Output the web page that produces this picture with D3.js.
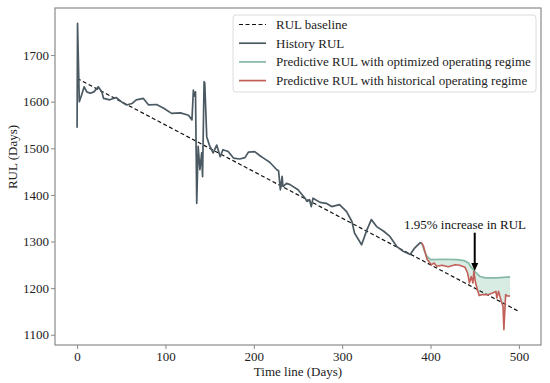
<!DOCTYPE html>
<html>
<head>
<meta charset="utf-8">
<script src="https://cdn.jsdelivr.net/npm/d3@7"></script>
<style>
  body { margin: 0; background: #fff; }
  text { font-family: "Liberation Serif", "DejaVu Serif", serif; }
</style>
</head>
<body>
<svg id="chart" width="550" height="383"></svg>
<script>
// RUL baseline: straight line from day 0 to day 500
let baseline = [[0, 1650], [500, 1150]];

// History RUL as [day, RUL]
let history = [
    [0, 1544], [0.5, 1768], [2.5, 1600], [5, 1614], [8, 1632], [11, 1621], [15, 1618],
    [19, 1621], [24, 1632], [28, 1621], [30, 1607], [37, 1604], [44, 1609], [50, 1600],
    [56, 1593], [62, 1596], [67, 1604], [75, 1607], [81, 1593], [90, 1594], [98, 1586],
    [107, 1575], [117, 1576], [126, 1571], [130, 1561], [131.6, 1625], [132.4, 1612],
    [134, 1621], [135.4, 1382], [137, 1504], [139, 1454], [141, 1490], [142, 1439],
    [143.7, 1643], [144.5, 1640], [146.7, 1525], [149.7, 1507], [154, 1490], [158, 1507],
    [162, 1482], [165, 1497], [171, 1493], [177, 1479], [184, 1477], [190, 1480],
    [194, 1492], [201, 1493], [207, 1484], [211, 1479], [218, 1470], [226, 1454],
    [228, 1452], [230, 1411], [232, 1440], [233, 1418], [237, 1425], [241, 1422],
    [250, 1411], [258, 1393], [260, 1386], [263, 1390], [265, 1375], [267, 1393],
    [275, 1384], [282, 1382], [288, 1375], [297, 1379], [305, 1364], [311, 1343],
    [314, 1318], [322, 1293], [328, 1325], [333, 1347], [339, 1332], [347, 1322],
    [354, 1311], [362, 1289], [369, 1279], [377, 1272], [382, 1286], [388, 1297], [390, 1297]
];

// Predictive RUL with optimized operating regime
let optimized = [
    [390, 1297], [393, 1280], [396, 1268], [400, 1261], [415, 1262], [430, 1261],
    [438, 1259], [443, 1254], [446, 1245], [450, 1236], [453, 1230], [456, 1225],
    [462, 1222], [475, 1222], [490, 1224]
];

// Predictive RUL with historical operating regime
let historical = [
    [390, 1297], [392, 1290], [396, 1262], [401, 1250], [404, 1254], [407, 1247],
    [413, 1249], [420, 1246], [428, 1250], [433, 1249], [439, 1245], [442, 1232],
    [444, 1211], [446, 1225], [448, 1211], [449, 1236], [451, 1211], [453, 1197],
    [455, 1184], [458, 1186], [465, 1186], [471, 1190], [474, 1193], [475, 1179],
    [477, 1193], [480, 1172], [482, 1161], [483, 1111], [485, 1186], [487, 1183], [490, 1183]
];

let xTicks = [0, 100, 200, 300, 400, 500];
let yTicks = [1100, 1200, 1300, 1400, 1500, 1600, 1700];

let legendLabels = ["RUL baseline", "History RUL",
                    "Predictive RUL with optimized operating regime",
                    "Predictive RUL with historical operating regime"];

let arrowFrom = [450, 1319],
    arrowTo   = [450, 1237];

let colHist = "#4b5a62",
    colOpt  = "#86b9a6",
    colHis  = "#c25f58",
    colFill = "#d9ece4",
    colAxis = "#8a8a8a";

function draw() {
    let svg = d3.select("#chart"),
        left = 55, right = 541, top = 8, bottom = 345;

    let x = d3.scaleLinear().domain([-25, 525]).range([left, right]);
    let y = d3.scaleLinear().domain([1078, 1801]).range([bottom, top]);
    let line = d3.line().x(d => x(d[0])).y(d => y(d[1]));

    // band between the two predictions
    svg.append("path")
       .attr("d", line(optimized.concat(historical.slice().reverse())) + "Z")
       .attr("fill", colFill)
       .attr("stroke", "none");

    svg.append("path")
       .attr("d", line(baseline))
       .attr("fill", "none")
       .attr("stroke", "#111")
       .attr("stroke-width", 1.2)
       .attr("stroke-dasharray", "4,2.5");

    svg.append("path")
       .attr("d", line(history))
       .attr("fill", "none")
       .attr("stroke", colHist)
       .attr("stroke-width", 1.7)
       .attr("stroke-linejoin", "round");

    svg.append("path")
       .attr("d", line(optimized))
       .attr("fill", "none")
       .attr("stroke", colOpt)
       .attr("stroke-width", 1.7);

    svg.append("path")
       .attr("d", line(historical))
       .attr("fill", "none")
       .attr("stroke", colHis)
       .attr("stroke-width", 1.6)
       .attr("stroke-linejoin", "round");

    // axes
    let gx = svg.append("g")
                .attr("transform", `translate(0,${bottom})`)
                .call(d3.axisBottom(x).tickValues(xTicks).tickFormat(d3.format("d"))
                        .tickSize(4).tickPadding(3));
    let gy = svg.append("g")
                .attr("transform", `translate(${left},0)`)
                .call(d3.axisLeft(y).tickValues(yTicks).tickFormat(d3.format("d"))
                        .tickSize(4).tickPadding(2));
    [gx, gy].forEach(g => {
        g.select(".domain").remove();
        g.selectAll("line").attr("stroke", colAxis);
        g.selectAll("text").attr("fill", "#222")
         .style("font-family", '"Liberation Serif", serif')
         .style("font-size", "13px");
    });

    svg.append("rect")
       .attr("x", left).attr("y", top)
       .attr("width", right - left).attr("height", bottom - top)
       .attr("fill", "none")
       .attr("stroke", colAxis)
       .attr("stroke-width", 1.2);

    svg.append("text")
       .attr("x", (left + right) / 2).attr("y", 376)
       .attr("text-anchor", "middle")
       .attr("font-size", 13)
       .attr("fill", "#222")
       .text("Time line (Days)");

    svg.append("text")
       .attr("transform", "translate(17,157) rotate(-90)")
       .attr("text-anchor", "middle")
       .attr("font-size", 13)
       .attr("fill", "#222")
       .text("RUL (Days)");

    // annotation
    let ax = x(arrowFrom[0]), ay0 = y(arrowFrom[1]), ay1 = y(arrowTo[1]);
    svg.append("line")
       .attr("x1", ax).attr("x2", ax)
       .attr("y1", ay0).attr("y2", ay1 - 7)
       .attr("stroke", "#000")
       .attr("stroke-width", 2);
    svg.append("path")
       .attr("d", `M${ax - 3.5},${ay1 - 8} L${ax + 3.5},${ay1 - 8} L${ax},${ay1} Z`)
       .attr("fill", "#000");
    svg.append("text")
       .attr("x", 465).attr("y", 229)
       .attr("text-anchor", "middle")
       .attr("font-size", 13)
       .attr("fill", "#111")
       .text("1.95% increase in RUL");

    // legend
    let lg = svg.append("g");
    lg.append("rect")
      .attr("x", 233).attr("y", 15)
      .attr("width", 303).attr("height", 77)
      .attr("rx", 3)
      .attr("fill", "#fff")
      .attr("fill-opacity", 0.85)
      .attr("stroke", "#dcdcdc");
    let styles = [
        {c: "#111", w: 1.2, dash: "4,2.5"},
        {c: colHist, w: 1.7},
        {c: colOpt, w: 1.7},
        {c: colHis, w: 1.7}
    ];
    legendLabels.forEach((lab, i) => {
        let cy = 24.5 + i * 18.7;
        lg.append("line")
          .attr("x1", 239).attr("x2", 266)
          .attr("y1", cy).attr("y2", cy)
          .attr("stroke", styles[i].c)
          .attr("stroke-width", styles[i].w)
          .attr("stroke-dasharray", styles[i].dash || null);
        lg.append("text")
          .attr("x", 276).attr("y", cy + 4.5)
          .attr("font-size", 13)
          .attr("fill", "#222")
          .text(lab);
    });
}

document.addEventListener("DOMContentLoaded", draw);
</script>
</body>
</html>
